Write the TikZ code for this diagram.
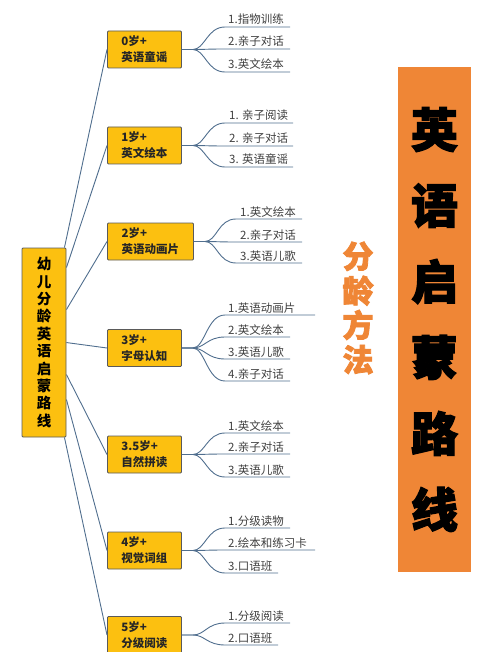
\documentclass[tikz,border=0pt]{standalone}
\usepackage{fontspec}
\setmainfont{Noto Sans CJK SC}
\newfontfamily\heavyfont[BoldFeatures={FakeBold=2.5}]{Noto Sans CJK SC}
\usetikzlibrary{positioning,calc}
\definecolor{amber}{HTML}{FCC010}
\definecolor{linkblue}{HTML}{506E8E}
\definecolor{tagorange}{HTML}{EF8636}
\definecolor{edgegray}{HTML}{5A5A5A}

\begin{document}
\begin{tikzpicture}[x=1pt,y=-1pt,every node/.style={inner sep=0pt},
  agebox/.style={draw=edgegray,line width=0.9pt,fill=amber,rounded corners=1pt,minimum width=74pt,minimum height=37pt,anchor=west,align=left,font=\fontsize{11.5}{16}\selectfont\bfseries,text=black!85},
  rootbox/.style={draw=edgegray,line width=0.9pt,fill=amber,rounded corners=1pt,minimum width=44pt,minimum height=189pt,align=center,font=\fontsize{14.5}{17.4}\selectfont\bfseries},
  leaf/.style={anchor=base west,font=\fontsize{11.5}{13}\selectfont,text=black!75},
  link/.style={draw=linkblue,line width=0.9pt}]
\useasboundingbox (0,0) rectangle (500,652);
% right title
\node[fill=tagorange,minimum width=73pt,minimum height=505pt,align=center,font=\heavyfont\fontsize{47}{76}\selectfont\bfseries] (title) at (434.5,319.5) {英\\语\\启\\蒙\\路\\线};
\node[align=center,text=tagorange,font=\heavyfont\fontsize{31}{34.5}\selectfont\bfseries] (method) at (358,308) {分\\龄\\方\\法};
% root and age boxes
\node[rootbox] (root) at (44,342.5) {幼\\儿\\分\\龄\\英\\语\\启\\蒙\\路\\线};
\node[agebox] (a0) at (107,49.5) {0岁+\\英语童谣};
\node[agebox] (a1) at (107,145.5) {1岁+\\英文绘本};
\node[agebox,minimum width=86pt] (a2) at (107,241.5) {2岁+\\英语动画片};
\node[agebox] (a3) at (107,348) {3岁+\\字母认知};
\node[agebox] (a35) at (107,454.5) {3.5岁+\\自然拼读};
\node[agebox] (a4) at (107,550.5) {4岁+\\视觉词组};
\node[agebox] (a5) at (107,635) {5岁+\\分级阅读};
% root branches
\draw[link] ([xshift=-2pt]root.north east) -- (a0.west);
\draw[link] ([yshift=-20pt]root.north east) -- (a1.west);
\draw[link] ([yshift=-62pt]root.north east) -- (a2.west);
\draw[link] ([yshift=-95pt]root.north east) -- (a3.west);
\draw[link] ([yshift=-127pt]root.north east) -- (a35.west);
\draw[link] ([yshift=-152pt]root.north east) -- (a4.west);
\draw[link] ([xshift=-2pt]root.south east) -- (a5.west);
% fan points
\foreach \a in {a0,a1,a2,a3,a35,a4,a5}
  \coordinate[right=11pt of \a.east] (f\a);
% leaves
\foreach \n/\yl/\xe/\t in {1/27/290/1.指物训练,2/49/290/2.亲子对话,3/72/290/3.英文绘本}{
  \coordinate (s0-\n) at (225,\yl); \coordinate (e0-\n) at (\xe,\yl);
  \node[leaf] (t0-\n) at (228,\yl-3) {\t};
  \draw[link] (a0.east) -- (fa0) .. controls +(12,0) and +(-18,0) .. (s0-\n) -- (e0-\n);
}
\foreach \n/\yl/\xe/\t in {1/123/293/1. 亲子阅读,2/146/293/2. 亲子对话,3/167/293/3. 英语童谣}{
  \coordinate (s1-\n) at (225,\yl); \coordinate (e1-\n) at (\xe,\yl);
  \node[leaf] (t1-\n) at (229,\yl-3) {\t};
  \draw[link] (a1.east) -- (fa1) .. controls +(12,0) and +(-18,0) .. (s1-\n) -- (e1-\n);
}
\foreach \n/\yl/\xe/\t in {1/219/302/1.英文绘本,2/242/302/2.亲子对话,3/263/302/3.英语儿歌}{
  \coordinate (s2-\n) at (236,\yl); \coordinate (e2-\n) at (\xe,\yl);
  \node[leaf] (t2-\n) at (240,\yl-3) {\t};
  \draw[link] (a2.east) -- (fa2) .. controls +(12,0) and +(-18,0) .. (s2-\n) -- (e2-\n);
}
\foreach \n/\yl/\xe/\t in {1/315/315/1.英语动画片,2/337/290/2.英文绘本,3/359/290/3.英语儿歌,4/381/290/4.亲子对话}{
  \coordinate (s3-\n) at (225,\yl); \coordinate (e3-\n) at (\xe,\yl);
  \node[leaf] (t3-\n) at (228,\yl-3) {\t};
  \draw[link] (a3.east) -- (fa3) .. controls +(12,0) and +(-18,0) .. (s3-\n) -- (e3-\n);
}
\foreach \n/\yl/\xe/\t in {1/433/290/1.英文绘本,2/454/290/2.亲子对话,3/477/290/3.英语儿歌}{
  \coordinate (s35-\n) at (225,\yl); \coordinate (e35-\n) at (\xe,\yl);
  \node[leaf] (t35-\n) at (228,\yl-3) {\t};
  \draw[link] (a35.east) -- (fa35) .. controls +(12,0) and +(-18,0) .. (s35-\n) -- (e35-\n);
}
\foreach \n/\yl/\xe/\t in {1/528/290/1.分级读物,2/550/315/2.绘本和练习卡,3/573/278/3.口语班}{
  \coordinate (s4-\n) at (225,\yl); \coordinate (e4-\n) at (\xe,\yl);
  \node[leaf] (t4-\n) at (228,\yl-3) {\t};
  \draw[link] (a4.east) -- (fa4) .. controls +(12,0) and +(-18,0) .. (s4-\n) -- (e4-\n);
}
\foreach \n/\yl/\xe/\t in {1/623/290/1.分级阅读,2/645/278/2.口语班}{
  \coordinate (s5-\n) at (225,\yl); \coordinate (e5-\n) at (\xe,\yl);
  \node[leaf] (t5-\n) at (228,\yl-3) {\t};
  \draw[link] (a5.east) -- (fa5) .. controls +(12,0) and +(-18,0) .. (s5-\n) -- (e5-\n);
}
\end{tikzpicture}
\end{document}
